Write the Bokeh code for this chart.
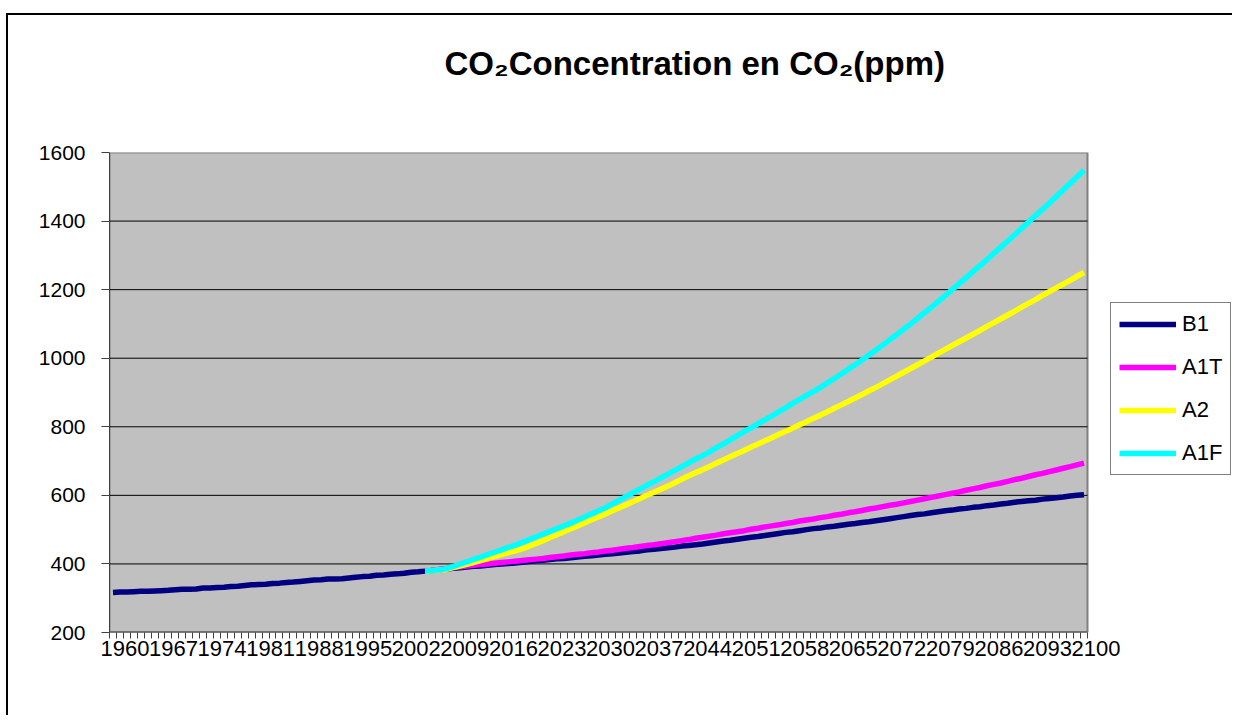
from bokeh.plotting import figure
from bokeh.models import FixedTicker, Legend, LegendItem, Range1d, Title
from bokeh.embed import file_html
from bokeh.resources import INLINE

FONT = "Liberation Sans"

# Category axis: one point per year
years = list(range(1960, 2101))
scenario_start = 2005

b1 = [317, 318, 318, 319, 320, 320, 321, 322, 323, 325,
      326, 326, 327, 330, 330, 331, 332, 334, 335, 337,
      339, 340, 341, 343, 344, 346, 347, 349, 351, 353,
      354, 356, 356, 357, 359, 361, 363, 364, 367, 368,
      370, 371, 373, 376, 377, 379,
      381, 383, 385, 387, 389,
      391, 393, 394, 396, 398, 400, 401, 403, 405, 407,
      409, 411, 413, 415, 416, 418, 420, 422, 424, 426,
      428, 430, 432, 434, 436, 438, 441, 443, 445, 447,
      449, 452, 454, 456, 458, 461, 464, 467, 469, 472,
      475, 478, 480, 483, 486, 489, 492, 494, 497, 500,
      503, 505, 508, 510, 513, 516, 518, 521, 523, 526,
      529, 532, 535, 538, 541, 544, 546, 549, 552, 555,
      557, 560, 562, 565, 567, 570, 572, 575, 577, 580,
      582, 584, 586, 589, 591, 593, 595, 598, 600, 602]

a1t = [379, 381, 384, 386, 389, 392,
       394, 396, 398, 400, 402, 404, 406, 408, 410, 412,
       414, 416, 419, 421, 423, 426, 428, 430, 433, 435,
       438, 440, 443, 446, 448, 451, 454, 456, 459, 462,
       465, 468, 471, 475, 478, 481, 484, 488, 491, 494,
       497, 501, 504, 508, 511, 514, 518, 521, 525, 528,
       531, 535, 538, 542, 545, 549, 552, 556, 560, 563,
       567, 571, 574, 578, 582, 586, 590, 594, 598, 602,
       606, 610, 615, 619, 623, 628, 632, 636, 641, 646,
       650, 655, 660, 664, 669, 674, 679, 684, 689, 694]

a2 = [379, 380, 382, 384, 389, 394,
      399, 404, 410, 415, 421, 427, 433, 438, 444, 452,
      460, 468, 477, 485, 494, 503, 511, 520, 529, 537,
      546, 555, 564, 573, 582, 591, 600, 609, 618, 627,
      637, 647, 657, 666, 675, 684, 694, 703, 713, 722,
      731, 741, 750, 759, 768, 778, 787, 796, 806, 815,
      825, 834, 844, 854, 864, 874, 884, 894, 905, 915,
      926, 937, 948, 959, 970, 981, 992, 1003, 1015, 1026,
      1037, 1048, 1059, 1070, 1081, 1093, 1104, 1115, 1126, 1137,
      1149, 1160, 1171, 1183, 1194, 1205, 1216, 1227, 1239, 1250]

a1f = [379, 381, 383, 386, 392, 399,
       406, 413, 420, 427, 434, 441, 448, 455, 463, 471,
       479, 487, 495, 503, 511, 519, 528, 537, 546, 555,
       564, 575, 586, 597, 608, 619, 630, 640, 651, 662,
       673, 684, 695, 706, 716, 727, 739, 750, 762, 774,
       786, 797, 809, 821, 832, 844, 856, 868, 880, 892,
       903, 915, 928, 941, 954, 968, 981, 995, 1010, 1024,
       1039, 1054, 1069, 1085, 1100, 1116, 1133, 1149, 1166, 1183,
       1200, 1218, 1235, 1253, 1270, 1288, 1306, 1324, 1342, 1360,
       1379, 1397, 1416, 1434, 1453, 1472, 1491, 1510, 1529, 1548]

series_names = ["B1", "A1T", "A2", "A1F"]
series_colors = ["#000080", "#FF00FF", "#FFFF00", "#00FFFF"]

y_ticks = [200, 400, 600, 800, 1000, 1200, 1400, 1600]
x_label_years = [1960, 1967, 1974, 1981, 1988, 1995, 2002, 2009, 2016, 2023, 2030,
                 2037, 2044, 2051, 2058, 2065, 2072, 2079, 2086, 2093, 2100]

title_text = "CO\u2082Concentration en CO\u2082(ppm)"

# Layout (pixels)
FIG_W, FIG_H = 1226, 702
LEFT, TOP, BOTTOM = 101, 137, 85
PLOT_W = 978                      # width of the grey plot area
FRAME_W = FIG_W - LEFT            # frame also holds the legend on the right
LABEL_SHIFT_PX = 12               # category labels sit slightly right of their category

x_start = years[0] - 0.5
x_plot_end = years[-1] + 0.5
px_per_year = PLOT_W / (x_plot_end - x_start)
x_end = x_start + FRAME_W / px_per_year
label_shift = LABEL_SHIFT_PX / px_per_year

p = figure(width=FIG_W, height=FIG_H, output_backend="svg", toolbar_location=None,
           title=None,
           x_range=Range1d(x_start, x_end),
           y_range=Range1d(y_ticks[0], y_ticks[-1]),
           min_border_left=LEFT, min_border_right=0,
           min_border_top=TOP, min_border_bottom=BOTTOM)
p.margin = (15, 0, 0, 8)
p.styles = {"box-shadow": "-2px -2px 0 0 #000000"}

p.background_fill_color = "white"
p.border_fill_color = "white"
p.outline_line_color = None

# Title (a blank spacer title sits between the frame and the real title)
p.add_layout(Title(text=" ", text_font=FONT, text_font_size="10px", standoff=58), "above")
p.add_layout(Title(text=title_text, align="left", offset=335, standoff=0,
                   vertical_align="bottom", text_font=FONT, text_font_size="33px",
                   text_font_style="bold", text_color="black"), "above")

# Grey plot area with its border
p.quad(left=[x_start], right=[x_plot_end], bottom=[y_ticks[0]], top=[y_ticks[-1]],
       fill_color="#C0C0C0", line_color="#808080", line_width=2)

# Horizontal gridlines limited to the plot area
grid_vals = y_ticks[1:-1]
p.segment(x0=[x_start] * len(grid_vals), x1=[x_plot_end] * len(grid_vals),
          y0=grid_vals, y1=grid_vals, line_color="black", line_width=1)
# Category axis line
p.segment(x0=[x_start], x1=[x_plot_end], y0=[y_ticks[0]], y1=[y_ticks[0]],
          line_color="#404040", line_width=2)

# Series
scen_years = [y for y in years if y >= scenario_start]
data = {"B1": (years, b1), "A1T": (scen_years, a1t), "A2": (scen_years, a2), "A1F": (scen_years, a1f)}
items = []
for name, color in zip(series_names, series_colors):
    xs, ys = data[name]
    r = p.line(xs, ys, line_color=color, line_width=5.5, line_join="round")
    items.append(LegendItem(label=name, renderers=[r]))

# Y axis
p.yaxis.ticker = FixedTicker(ticks=y_ticks)
p.yaxis.major_tick_out = 8
p.yaxis.major_tick_in = 0
p.yaxis.minor_tick_out = 0
p.yaxis.minor_tick_in = 0
p.yaxis.axis_line_color = "#404040"
p.yaxis.major_tick_line_color = "#404040"
p.yaxis.major_label_text_font = FONT
p.yaxis.major_label_text_font_size = "21px"
p.yaxis.major_label_text_color = "black"
p.yaxis.major_label_standoff = 16

# X axis: tick marks between categories, labels every 7 years
boundaries = [y - 0.5 for y in years] + [years[-1] + 0.5]
label_pos = [v + label_shift for v in x_label_years]
p.xaxis.ticker = FixedTicker(ticks=label_pos, minor_ticks=boundaries)
p.xaxis.major_label_overrides = {pos: str(v) for pos, v in zip(label_pos, x_label_years)}
p.xaxis.major_tick_out = 0
p.xaxis.major_tick_in = 0
p.xaxis.minor_tick_out = 6
p.xaxis.minor_tick_in = 0
p.xaxis.minor_tick_line_color = "#404040"
p.xaxis.minor_tick_line_width = 1
p.xaxis.axis_line_color = None
p.xaxis.major_label_text_font = FONT
p.xaxis.major_label_text_font_size = "22px"
p.xaxis.major_label_text_color = "black"
p.xaxis.major_label_standoff = 2

p.grid.visible = False

legend = Legend(items=items, location=(1110 - 109, 632 - 475), orientation="vertical",
                border_line_color="black", border_line_width=1,
                background_fill_color="white", background_fill_alpha=1,
                label_text_font=FONT, label_text_font_size="22px",
                label_text_color="black",
                glyph_width=57, glyph_height=22, label_height=22,
                label_standoff=6, spacing=17, padding=8, margin=0)
p.add_layout(legend)

open("out.html", "w").write(file_html(p, INLINE))
